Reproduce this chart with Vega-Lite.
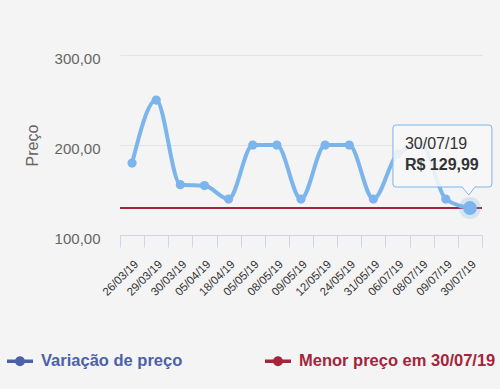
{
  "$schema": "https://vega.github.io/schema/vega-lite/v6.json",
  "width": 362,
  "height": 180,
  "autosize": {"type": "none"},
  "padding": {"left": 120, "top": 55, "right": 18, "bottom": 154},
  "background": "#f4f4f4",
  "config": {
    "view": {"stroke": null},
    "font": "Liberation Sans",
    "locale": {"number": {"decimal": ",", "thousands": ".", "grouping": [3], "currency": ["R$ ", ""]}}
  },
  "datasets": {
    "precos": [
      {"data": "26/03/19", "preco": 179.9, "serie": "Variação de preço"},
      {"data": "29/03/19", "preco": 249.9, "serie": "Variação de preço"},
      {"data": "30/03/19", "preco": 155.9, "serie": "Variação de preço"},
      {"data": "05/04/19", "preco": 154.9, "serie": "Variação de preço"},
      {"data": "18/04/19", "preco": 139.9, "serie": "Variação de preço"},
      {"data": "05/05/19", "preco": 199.9, "serie": "Variação de preço"},
      {"data": "08/05/19", "preco": 199.9, "serie": "Variação de preço"},
      {"data": "09/05/19", "preco": 139.9, "serie": "Variação de preço"},
      {"data": "12/05/19", "preco": 199.9, "serie": "Variação de preço"},
      {"data": "24/05/19", "preco": 199.9, "serie": "Variação de preço"},
      {"data": "31/05/19", "preco": 139.9, "serie": "Variação de preço"},
      {"data": "06/07/19", "preco": 189.9, "serie": "Variação de preço"},
      {"data": "08/07/19", "preco": 199.9, "serie": "Variação de preço"},
      {"data": "09/07/19", "preco": 139.9, "serie": "Variação de preço"},
      {"data": "30/07/19", "preco": 129.99, "serie": "Variação de preço"}
    ],
    "menor": [
      {"serie": "Menor preço em 30/07/19", "preco": 129.99}
    ]
  },
  "layer": [
    {
      "data": {"name": "menor"},
      "mark": {"type": "rule", "strokeWidth": 2},
      "encoding": {
        "y": {"field": "preco", "type": "quantitative"},
        "color": {"field": "serie", "type": "nominal"}
      }
    },
    {
      "data": {"name": "precos"},
      "mark": {"type": "line", "interpolate": "monotone", "strokeWidth": 4},
      "encoding": {
        "x": {
          "field": "data", "type": "ordinal", "sort": null, "bandPosition": 0.5,
          "scale": {"type": "band", "paddingInner": 0, "paddingOuter": 0},
          "axis": {
            "title": null,
            "labelAngle": -45,
            "labelFontSize": 11.5,
            "labelColor": "#333333",
            "labelPadding": 11,
            "domainColor": "#ccd6eb",
            "tickColor": "#ccd6eb",
            "tickSize": 12,
            "tickBand": "extent",
            "grid": false
          }
        },
        "y": {
          "field": "preco", "type": "quantitative",
          "scale": {"domain": [100, 300], "nice": false, "zero": false},
          "axis": {
            "title": "Preço",
            "titleFontSize": 16,
            "titleFontWeight": "normal",
            "titleColor": "#666666",
            "titlePadding": 14,
            "values": [100, 200, 300],
            "format": ".2f",
            "labelFontSize": 15,
            "labelColor": "#666666",
            "labelPadding": 20,
            "labelOffset": 3,
            "domain": false,
            "ticks": false,
            "gridColor": "#e3e3e3"
          }
        },
        "color": {
          "field": "serie", "type": "nominal",
          "scale": {"domain": ["Variação de preço", "Menor preço em 30/07/19"], "range": ["#7cb5ec", "#a3253b"]},
          "legend": {
            "title": null,
            "orient": "none",
            "legendX": -113,
            "legendY": 293,
            "direction": "horizontal",
            "columns": 2,
            "columnPadding": 82,
            "symbolType": "M-1,-0.13H1V0.13H-1Z M0.38,0 A0.38,0.38 0 1,1 -0.38,0 A0.38,0.38 0 1,1 0.38,0 Z",
            "symbolSize": 676,
            "symbolStrokeWidth": 0,
            "labelFontSize": 16.5,
            "labelFontWeight": "bold",
            "labelOffset": 8,
            "labelLimit": 0,
            "encode": {
              "symbols": {"update": {"fill": {"signal": "datum.value == 'Variação de preço' ? '#4b62a8' : '#a3253b'"}, "strokeWidth": {"value": 0}, "opacity": {"value": 1}}},
              "labels": {"update": {"fill": {"signal": "datum.value == 'Variação de preço' ? '#4b62a8' : '#a3253b'"}}}
            }
          }
        }
      }
    },
    {
      "data": {"name": "precos"},
      "mark": {"type": "circle", "size": 85, "opacity": 1, "color": "#7cb5ec"},
      "encoding": {
        "x": {"field": "data", "type": "ordinal", "sort": null, "bandPosition": 0.5},
        "y": {"field": "preco", "type": "quantitative"}
      }
    },
    {
      "data": {"name": "precos"},
      "transform": [{"filter": "datum.data == '30/07/19'"}],
      "mark": {"type": "circle", "size": 480, "opacity": 0.25, "color": "#7cb5ec"},
      "encoding": {
        "x": {"field": "data", "type": "ordinal", "sort": null, "bandPosition": 0.5},
        "y": {"field": "preco", "type": "quantitative"}
      }
    },
    {
      "data": {"name": "precos"},
      "transform": [{"filter": "datum.data == '30/07/19'"}],
      "mark": {"type": "circle", "size": 190, "opacity": 1, "color": "#7cb5ec"},
      "encoding": {
        "x": {"field": "data", "type": "ordinal", "sort": null, "bandPosition": 0.5},
        "y": {"field": "preco", "type": "quantitative"}
      }
    },
    {
      "data": {"name": "precos"},
      "transform": [{"filter": "datum.data == '30/07/19'"}],
      "mark": {
        "type": "point",
        "shape": "M-74,-83 H19 Q22,-83 22,-80 V-24 Q22,-21 19,-21 H5 L-1,-13 L-8,-21 H-74 Q-77,-21 -77,-24 V-80 Q-77,-83 -74,-83 Z",
        "size": 4,
        "filled": true,
        "fill": "#f7f7f7",
        "fillOpacity": 0.88,
        "stroke": "#7cb5ec",
        "strokeWidth": 1,
        "opacity": 1
      },
      "encoding": {
        "x": {"field": "data", "type": "ordinal", "sort": null, "bandPosition": 0.5},
        "y": {"field": "preco", "type": "quantitative"}
      }
    },
    {
      "data": {"name": "precos"},
      "transform": [{"filter": "datum.data == '30/07/19'"}],
      "mark": {"type": "text", "align": "left", "baseline": "alphabetic", "dx": -65, "dy": -59, "fontSize": 16, "color": "#333333"},
      "encoding": {
        "x": {"field": "data", "type": "ordinal", "sort": null, "bandPosition": 0.5},
        "y": {"field": "preco", "type": "quantitative"},
        "text": {"field": "data"}
      }
    },
    {
      "data": {"name": "precos"},
      "transform": [{"filter": "datum.data == '30/07/19'"}],
      "mark": {"type": "text", "align": "left", "baseline": "alphabetic", "dx": -65, "dy": -38, "fontSize": 16, "fontWeight": "bold", "color": "#333333"},
      "encoding": {
        "x": {"field": "data", "type": "ordinal", "sort": null, "bandPosition": 0.5},
        "y": {"field": "preco", "type": "quantitative"},
        "text": {"field": "preco", "type": "quantitative", "format": "$.2f"}
      }
    }
  ]
}
